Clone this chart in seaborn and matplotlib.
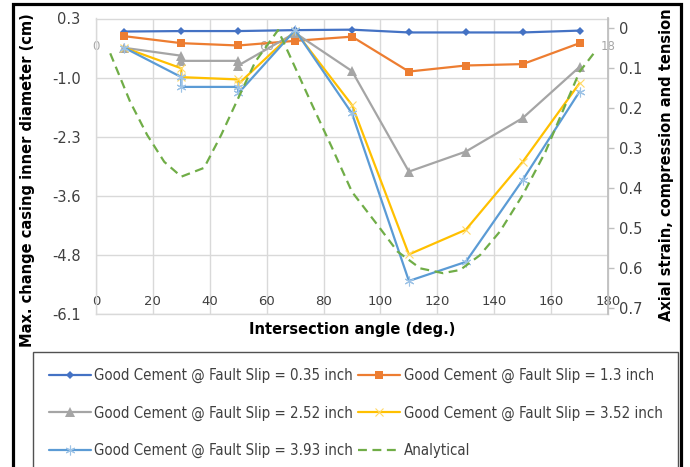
import matplotlib
matplotlib.use("Agg")
import matplotlib.pyplot as plt
import seaborn as sns
import numpy as np
from matplotlib.patches import Rectangle

# intersection angles (deg.) of the FE runs; some runs have two values at 30 and 50
angle = [10, 30, 50, 70, 90, 110, 130, 150, 170]
angle_dup = [10, 30, 30, 50, 50, 70, 90, 110, 130, 150, 170]

# max. change of casing inner diameter (cm)
slip_035 = [-0.03, -0.02, -0.02, 0.0, 0.01, -0.05, -0.05, -0.05, -0.01]
slip_130 = [-0.13, -0.28, -0.33, -0.23, -0.14, -0.89, -0.76, -0.73, -0.28]
slip_252 = [-0.38, -0.55, -0.66, -0.66, -0.76, -0.06, -0.88, -3.04, -2.61, -1.89, -0.79]
slip_352 = [-0.38, -0.82, -1.01, -1.06, -1.16, -0.02, -1.61, -4.82, -4.29, -2.83, -1.14]
slip_393 = [-0.38, -1.01, -1.22, -1.22, -1.36, 0.0, -1.79, -5.39, -4.98, -3.22, -1.32]

# analytical axial strain (right axis)
analytical_angle = [5, 12, 18, 24, 30, 38, 44, 50, 56, 64, 68, 76, 83, 90, 99,
                    106, 114, 122, 128, 135, 142, 150, 158, 165, 170, 175]
analytical_strain = [0.064, 0.185, 0.268, 0.335, 0.372, 0.350, 0.268, 0.176, 0.085,
                     0.006, 0.068, 0.193, 0.300, 0.410, 0.493, 0.559, 0.601, 0.613,
                     0.605, 0.568, 0.509, 0.418, 0.310, 0.193, 0.110, 0.064]

left_ticks = np.linspace(0.25, -6.1, 6)
left_labels = ['0.3', '-1.0', '-2.3', '-3.6', '-4.8', '-6.1']
right_ticks = [0, 0.1, 0.2, 0.3, 0.4, 0.5, 0.6, 0.7]
right_labels = ['0', '0.1', '0.2', '0.3', '0.4', '0.5', '0.6', '0.7']
x_ticks = list(range(0, 181, 20))
top_ticks = [0, 60, 180]
top_labels = ['0', '60', '18']

sns.set_theme(style='white')
plt.rcParams['font.family'] = ['DejaVu Sans']

fig = plt.figure(figsize=(6.9, 4.67), dpi=100)
ax = fig.add_axes([96/690, 1-314/467, 512/690, 295.5/467])

sns.lineplot(x=angle, y=slip_035, ax=ax, estimator=None, sort=False, color='#4472C4',
             marker='D', markersize=4.5, markeredgewidth=0, lw=1.6,
             label='Good Cement @ Fault Slip = 0.35 inch')
sns.lineplot(x=angle, y=slip_130, ax=ax, estimator=None, sort=False, color='#ED7D31',
             marker='s', markersize=6, markeredgewidth=0, lw=1.6,
             label='Good Cement @ Fault Slip = 1.3 inch')
sns.lineplot(x=angle_dup, y=slip_252, ax=ax, estimator=None, sort=False, color='#A5A5A5',
             marker='^', markersize=6.5, markeredgewidth=0, lw=1.6,
             label='Good Cement @ Fault Slip = 2.52 inch')
sns.lineplot(x=angle_dup, y=slip_352, ax=ax, estimator=None, sort=False, color='#FFC000',
             marker='x', markersize=6, markeredgewidth=0.8, markeredgecolor='#FFD966', lw=1.6,
             label='Good Cement @ Fault Slip = 3.52 inch')
sns.lineplot(x=angle_dup, y=slip_393, ax=ax, estimator=None, sort=False, color='#5B9BD5',
             marker=(6, 2, 0), markersize=7, markeredgewidth=0.8, markeredgecolor='#9DC3E6', lw=1.6,
             label='Good Cement @ Fault Slip = 3.93 inch')

ax.set_xlim(0, 180)
ax.set_ylim(-6.1, 0.25)
ax.set_xticks(x_ticks)
ax.set_xticklabels([str(t) for t in x_ticks])
ax.set_yticks(left_ticks)
ax.set_yticklabels(left_labels)
ax.grid(True, color='#D9D9D9', linewidth=1)
for s in ax.spines.values():
    s.set_color('#D9D9D9')
    s.set_linewidth(1)
ax.tick_params(axis='x', direction='in', length=0, pad=-14, labelsize=9.5, labelcolor='#404040')
ax.tick_params(axis='y', length=0, pad=11, labelsize=10.5, labelcolor='#404040')
ax.set_xlabel('Intersection angle (deg.)', fontweight='bold', fontsize=10.5, labelpad=6, color='black')
ax.set_ylabel('Max. change casing inner diameter (cm)', fontweight='bold', fontsize=10.5,
              color='black', va='center')
ax.yaxis.set_label_coords((28-96)/512, (314-180)/295.5)

# analytical curve on the secondary axes
ax2 = ax.twinx()
sns.lineplot(x=analytical_angle, y=analytical_strain, ax=ax2, estimator=None, sort=False,
             color='#70AD47', lw=1.6, linestyle=(0, (4, 2.5)), label='Analytical')
ax2.set_ylim(0.715, -0.023)
ax2.set_yticks(right_ticks)
ax2.set_yticklabels(right_labels)
ax2.grid(False)
for k, s in ax2.spines.items():
    s.set_visible(k == 'right')
ax2.spines['right'].set_color('#BFBFBF')
ax2.tick_params(axis='y', direction='out', length=4, color='#BFBFBF', width=1, pad=4,
                labelsize=10.5, labelcolor='#404040', right=True)
ax2.set_ylabel('Axial strain, compression and tension', fontweight='bold', fontsize=10.5,
               color='black', va='center', rotation=90)
ax2.yaxis.set_label_coords((666-96)/512, (314-165)/295.5)

top = ax.secondary_xaxis('top')
top.set_xticks(top_ticks)
top.set_xticklabels(top_labels)
top.tick_params(direction='in', length=0, pad=-25, labelsize=8.5, labelcolor='#A6A6A6')
top.spines['top'].set_visible(False)

# legend, filled row by row like the original
h1, l1 = ax.get_legend_handles_labels()
h2, l2 = ax2.get_legend_handles_labels()
ax.get_legend().remove()
ax2.get_legend().remove()
hs = h1 + h2
ls = l1 + l2
order = [0, 2, 4, 1, 3, 5]
leg = fig.legend([hs[i] for i in order], [ls[i] for i in order], ncol=2,
                 loc='upper left', bbox_to_anchor=(33/690, 1-352/467),
                 frameon=True, fancybox=False, edgecolor='#262626',
                 borderaxespad=0, borderpad=1.05, labelspacing=1.5,
                 handlelength=2.8, handletextpad=0.25, columnspacing=0.3,
                 prop={'family': 'DejaVu Sans', 'stretch': 'condensed', 'size': 10.8})
leg.get_frame().set_linewidth(1)
for t in leg.get_texts():
    t.set_color('#404040')

fig.add_artist(Rectangle((12.5/690, -0.05), (681-12.5)/690, 1.05-4/467,
                         transform=fig.transFigure, fill=False, ec='black', lw=2.3, clip_on=False))

fig.savefig('out.png', dpi=100)
